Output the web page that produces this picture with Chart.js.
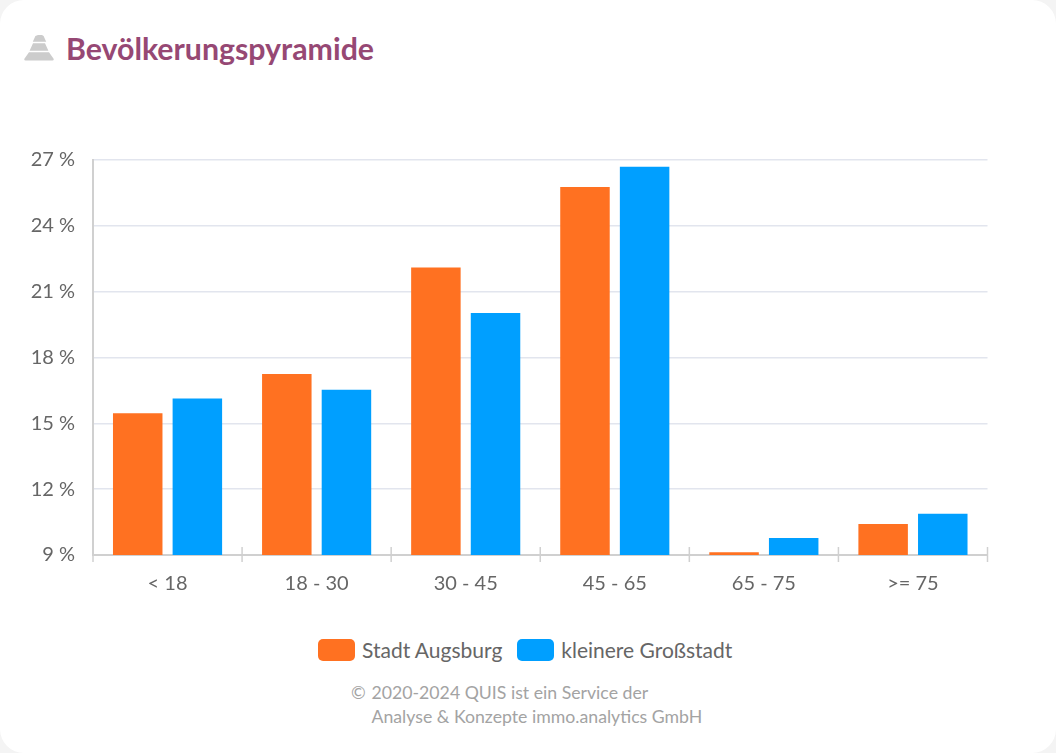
<!DOCTYPE html>
<html lang="de">
<head>
<meta charset="utf-8">
<title>Bevölkerungspyramide</title>
<script src="https://cdn.jsdelivr.net/npm/chart.js@4"></script>
<style>
  html, body { margin: 0; padding: 0; background: #f4f4f4; }
  body { width: 1056px; height: 753px; overflow: hidden; font-family: Lato, sans-serif; }
  #card { position: relative; width: 1056px; height: 753px; background: #fff; border-radius: 24px; }
  #title { position: absolute; left: 66px; top: 29px; font-size: 30.3px; line-height: 38px; font-weight: 700; color: #964874; }
  #icon { position: absolute; left: 24px; top: 35px; }
  #wrap { position: absolute; left: 0; top: 130px; width: 1056px; height: 500px; }
  #legend { position: absolute; left: 318px; top: 638px; display: flex; align-items: center; height: 24px; font-size: 21px; line-height: 24px; color: #666; white-space: nowrap; }
  #legend i { display: block; width: 37px; height: 22px; border-radius: 5px; margin-right: 7px; }
  #legend span { margin-right: 15px; }
  #footer { position: absolute; left: 351px; top: 681px; font-size: 17.7px; line-height: 24px; color: #a3a3a3; white-space: nowrap; }
  #footer span { display: inline-block; width: 20.5px; }
  #footer div { padding-left: 20.5px; }
</style>
</head>
<body>
<div id="card">
  <svg id="icon" width="30" height="27" viewBox="0 0 30 27">
    <path d="M14 0 h4 l1.6 1 l2.6 5.8 h-13.4 l2.6 -5.8 z M9 8.2 h12 l3.4 7.6 h-18.8 z M5 17.2 h20 l4.6 6.6 q0.6 1.7 -1.2 1.7 h-26.8 q-1.8 0 -1.2 -1.7 z" fill="#cccccc"/>
  </svg>
  <div id="title">Bevölkerungspyramide</div>
  <div id="wrap"><canvas id="chart"></canvas></div>
  <div id="legend"></div>
  <div id="footer"><span>©</span>2020-2024 QUIS ist ein Service der<div>Analyse &amp; Konzepte immo.analytics GmbH</div></div>
</div>
<script>
const categories = ['< 18', '18 - 30', '30 - 45', '45 - 65', '65 - 75', '>= 75'];
const augsburg = [15.46, 17.25, 22.1, 25.77, 9.12, 10.41];
const grossstadt = [16.13, 16.53, 20.03, 26.69, 9.77, 10.88];
const yTicks = [9, 12, 15, 18, 21, 24, 27];

// tick marks on the x axis reach above and below the axis line
const xTickMarks = {
  id: 'xTickMarks',
  afterDatasetsDraw(chart) {
    const { ctx, scales: { x } } = chart;
    const step = x.width / categories.length;
    ctx.save();
    ctx.strokeStyle = '#d0d0d0';
    ctx.lineWidth = 1.5;
    for (let i = 0; i <= categories.length; i++) {
      const px = x.left + i * step;
      ctx.beginPath();
      ctx.moveTo(px, x.top - 8);
      ctx.lineTo(px, x.top + 7);
      ctx.stroke();
    }
    ctx.restore();
  }
};

Chart.defaults.font.family = 'Lato, sans-serif';
Chart.defaults.font.size = 20;
Chart.defaults.color = '#666666';

const chart = new Chart(document.getElementById('chart'), {
  type: 'bar',
  data: {
    labels: categories,
    datasets: [
      { label: 'Stadt Augsburg', data: augsburg, backgroundColor: '#ff7121' },
      { label: 'kleinere Großstadt', data: grossstadt, backgroundColor: '#009fff' }
    ]
  },
  options: {
    responsive: true,
    maintainAspectRatio: false,
    animation: false,
    layout: { padding: { left: 0, right: 68.5, top: 23.5, bottom: 0 } },
    datasets: { bar: { categoryPercentage: 0.8, barPercentage: 0.83 } },
    scales: {
      x: {
        grid: { display: false },
        border: { color: '#d0d0d0', width: 2 },
        ticks: { padding: 9, color: '#666666' },
        afterFit(scale) { scale.height = 75; }
      },
      y: {
        min: 9,
        max: 27,
        afterBuildTicks(scale) { scale.ticks = yTicks.map(value => ({ value })); },
        grid: { color: '#e2e5ee', lineWidth: 1.5, drawTicks: false },
        border: { color: '#d0d0d0', width: 2 },
        ticks: { padding: 18, color: '#666666', callback: v => v + ' %' },
        afterFit(scale) { scale.width = 93; }
      }
    },
    plugins: {
      legend: { display: false },
      tooltip: { enabled: false }
    }
  },
  plugins: [xTickMarks]
});

// legend is plain html, the gap between swatch and text is tighter than the built in one
document.getElementById('legend').innerHTML = chart.data.datasets.map(d =>
  `<i style="background:${d.backgroundColor}"></i><span>${d.label}</span>`
).join('');
</script>
</body>
</html>
